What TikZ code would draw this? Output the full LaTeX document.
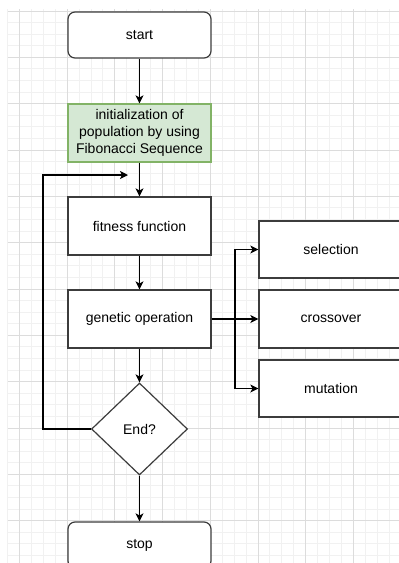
\documentclass[tikz,border=0pt]{standalone}
\usepackage{fontspec}
\setmainfont{Liberation Sans}
\usetikzlibrary{shapes.geometric,arrows.meta}
\definecolor{gmin}{HTML}{F1F1F1}
\definecolor{gmaj}{HTML}{DCDCDC}
\definecolor{bord}{HTML}{3C3C3C}
\definecolor{gfill}{HTML}{D5E8D4}
\definecolor{gbord}{HTML}{82B366}
\begin{document}
\begin{tikzpicture}[x=1pt,y=-1pt,
  txt/.style={font=\fontsize{14}{16.7}\selectfont,align=center,text=black},
  box/.style={txt,draw=bord,line width=1.2pt,fill=white,minimum width=143pt,minimum height=58pt,inner sep=0pt},
  rbox/.style={box,rounded corners=7pt,minimum height=46pt},
  gbox/.style={box,fill=gfill,draw=gbord},
  dec/.style={txt,draw=bord,line width=1.2pt,fill=white,shape=diamond,minimum width=96pt,minimum height=92pt,inner sep=0pt},
  arr/.style={draw=black,line width=1.2pt,-{Stealth[length=8pt,width=8pt,inset=2pt]}},
  ln/.style={draw=black,line width=1.2pt}]
\clip (0,0) rectangle (399,563);
\fill[white] (0,0) rectangle (399,563);
% grid
\foreach \i in {0,...,33} {\draw[gmin,line width=1pt] ({7.5+\i*11.93},9) -- ({7.5+\i*11.93},563);}
\foreach \k in {0,...,47} {\draw[gmin,line width=1pt] (7.5,{11+\k*11.585}) -- (399,{11+\k*11.585});}
\foreach \k in {0,...,8} {\draw[gmaj,line width=1pt] ({19.4+\k*47.72},9) -- ({19.4+\k*47.72},563);}
\foreach \k in {0,...,12} {\draw[gmaj,line width=1pt] (7.5,{11+\k*46.34}) -- (399,{11+\k*46.34});}
% nodes
\node[rbox] (start) at (139.5,35) {start};
\node[gbox] (init) at (139.5,133) {initialization of\\population by using\\Fibonacci Sequence};
\node[box] (fit) at (139.5,226) {fitness function};
\node[box] (gen) at (139.5,319) {genetic operation};
\node[dec] (end) at (139.5,429) {End?};
\node[rbox] (stop) at (139.5,545) {stop};
\node[box,minimum width=144pt,minimum height=57pt] (sel) at (331,249.5) {selection};
\node[box,minimum width=144pt] (cro) at (331,319) {crossover};
\node[box,minimum width=144pt,minimum height=57pt] (mut) at (331,388.5) {mutation};
% connectors
\draw[arr] (start) -- (init);
\draw[arr] (init) -- (fit);
\draw[arr] (fit) -- (gen);
\draw[arr] (gen) -- (end);
\draw[arr] (end) -- (stop);
\coordinate (loopend) at (128,175);
\draw[arr] (end.west) -- (43,429) -- (43,175) -- (loopend);
\draw[arr] (gen.east) -- (cro.west);
\coordinate (br) at (235,319);
\draw[arr] (br) |- (sel.west);
\draw[arr] (br) |- (mut.west);
\end{tikzpicture}
\end{document}
